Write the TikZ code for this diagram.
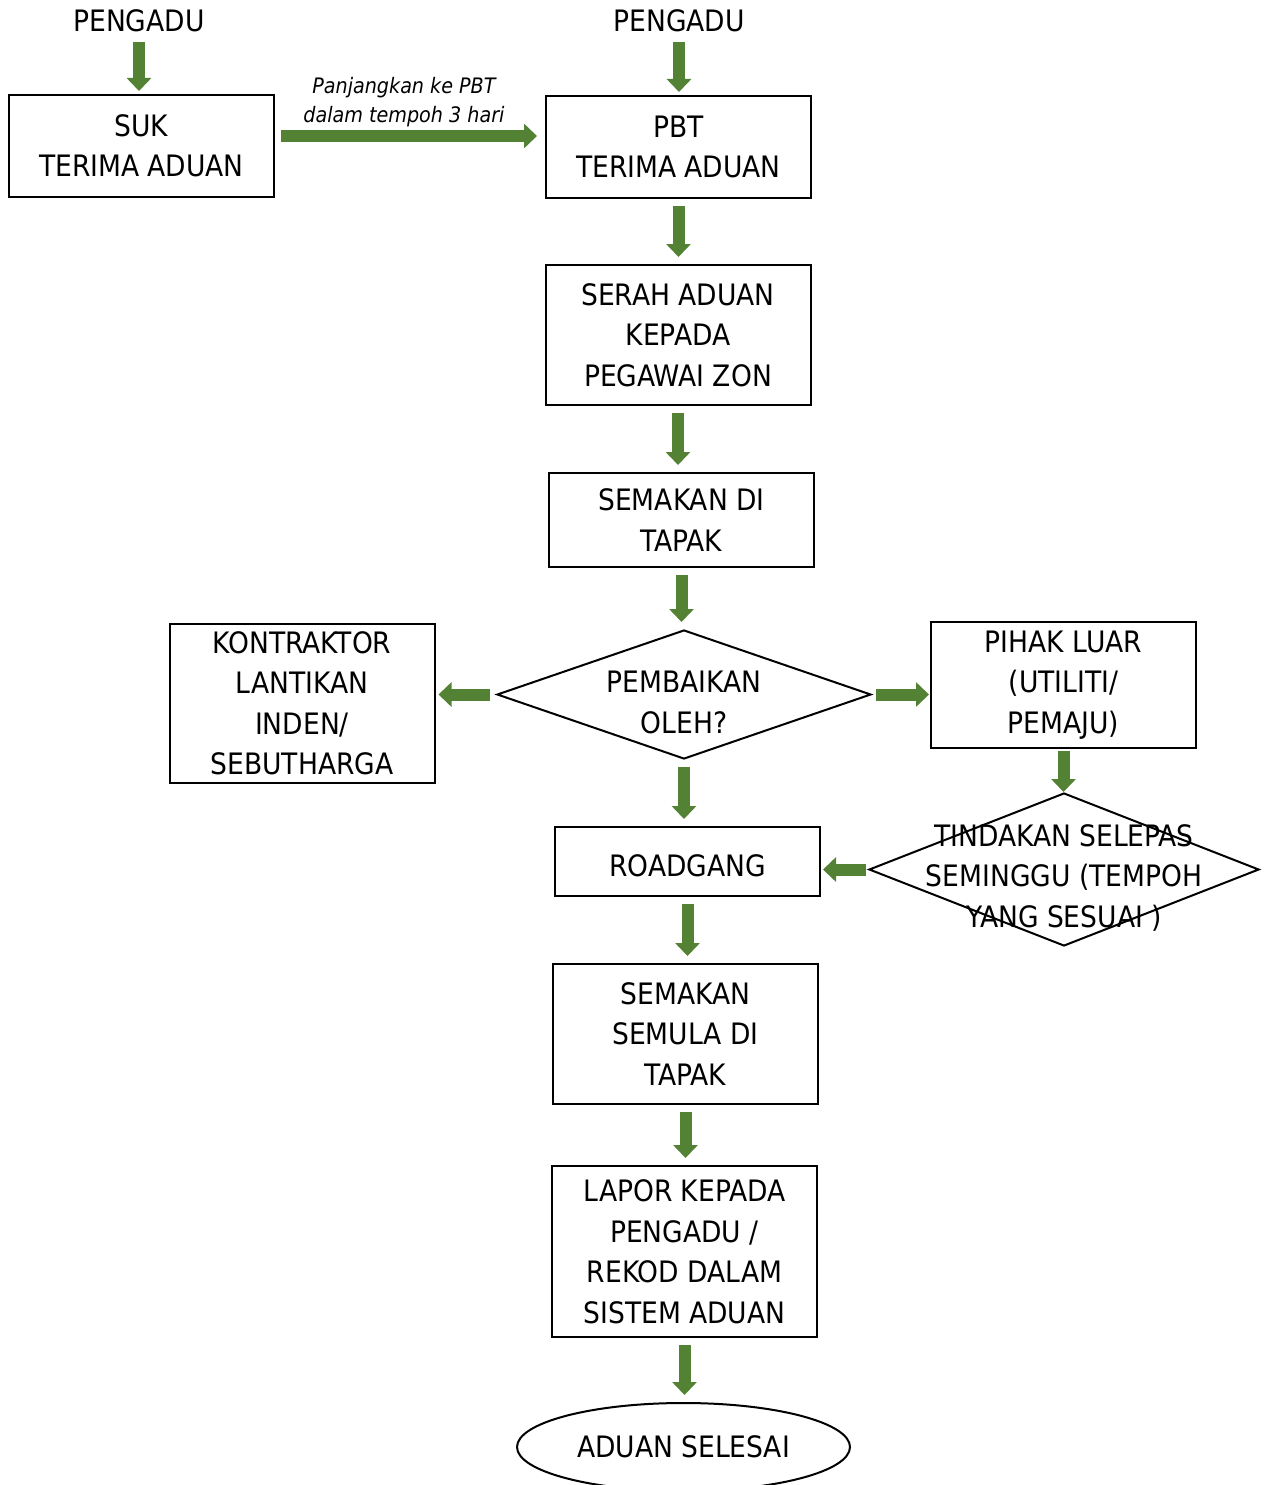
\documentclass[tikz,border=0pt]{standalone}
\usepackage{fontspec}
\setmainfont{DejaVu Sans Condensed}
\usetikzlibrary{shapes.geometric,arrows.meta}
\definecolor{arrowgreen}{RGB}{84,130,53}

\begin{document}
\begin{tikzpicture}
  [x=1pt,y=-1pt,every node/.style={font=\fontsize{29.5}{40.5}\selectfont}]
  \tikzstyle{box} = [draw,line width=2pt,rectangle,align=center,minimum width=265,
    execute at begin node={\rule{0pt}{30pt}}]
  \tikzstyle{decision} = [draw,line width=2pt,diamond,inner sep=0pt]
  \tikzstyle{flow} = [draw=arrowgreen,line width=12pt,-{Triangle[width=24pt,length=13pt]}]
  \tikzstyle{note} = [font=\fontsize{21.3}{29}\selectfont\itshape,align=center]
  \useasboundingbox (0,0) rectangle (1264,1485);
  \node (pengadu1) at (139,21) {PENGADU};
  \node (pengadu2) at (679,21) {PENGADU};
  \node[box,minimum height=102] (suk) at (141.5,146) {SUK\\TERIMA ADUAN};
  \node[box,minimum height=102] (pbt) at (678.5,147) {PBT\\TERIMA ADUAN};
  \node[box,minimum height=140] (serah) at (678,335) {SERAH ADUAN\\KEPADA\\PEGAWAI ZON};
  \node[box,minimum height=94] (semakan) at (681.5,520) {SEMAKAN DI\\TAPAK};
  \node[decision,minimum width=374,minimum height=129,
    label={[align=center,yshift=-8pt]center:PEMBAIKAN\\OLEH?}] (pembaikan) at (684,694.5) {};
  \node[box,minimum height=159] (kontraktor) at (302,703.5) {KONTRAKTOR\\LANTIKAN\\INDEN/\\SEBUTHARGA};
  \node[box,minimum height=126] (pihak) at (1063.5,685) {PIHAK LUAR\\(UTILITI/\\PEMAJU)};
  \node[decision,minimum width=390,minimum height=153,
    label={[align=center,yshift=-8pt]center:TINDAKAN SELEPAS\\SEMINGGU (TEMPOH\\YANG SESUAI )}] (tindakan) at (1064,869.5) {};
  \node[box,minimum height=69] (roadgang) at (687.5,861.5) {ROADGANG};
  \node[box,minimum height=140] (semula) at (685.5,1034) {SEMAKAN\\SEMULA DI\\TAPAK};
  \node[box,minimum height=171] (lapor) at (684.5,1251.5) {LAPOR KEPADA\\PENGADU /\\REKOD DALAM\\SISTEM ADUAN};
  \node[draw,line width=2pt,ellipse,minimum width=333,minimum height=88,inner sep=1pt] (selesai) at (683.5,1447) {ADUAN SELESAI};
  % anak panah menegak
  \foreach \source /\dest in {pengadu1/suk,pengadu2/pbt}
   \draw[flow,shorten <=6pt,shorten >=3pt] (\source.south) -- (\source.south |- \dest.north);
  \foreach \source /\dest in {pbt/serah,serah/semakan,semakan/pembaikan,pembaikan/roadgang,roadgang/semula,semula/lapor,lapor/selesai}
   \draw[flow,shorten <=7pt,shorten >=7pt] (\source.south) -- (\source.south |- \dest.north);
  \draw[flow,shorten <=2pt] (pihak.south) -- (pihak.south |- tindakan.north);
  % anak panah melintang
  \draw[flow,shorten <=6pt,shorten >=8pt] ([yshift=10pt]suk.east) -- ([yshift=10pt]suk.east -| pbt.west)
    node[note,midway,above=0pt,xshift=-6pt] {Panjangkan ke PBT\\dalam tempoh 3 hari};
  \draw[flow,shorten <=6pt,shorten >=3pt] (pembaikan.west) -- (pembaikan.west -| kontraktor.east);
  \draw[flow,shorten <=4pt,shorten >=1pt] (pembaikan.east) -- (pembaikan.east -| pihak.west);
  \draw[flow,shorten <=2pt,shorten >=2pt] (tindakan.west) -- (tindakan.west -| roadgang.east);
\end{tikzpicture}
\end{document}
